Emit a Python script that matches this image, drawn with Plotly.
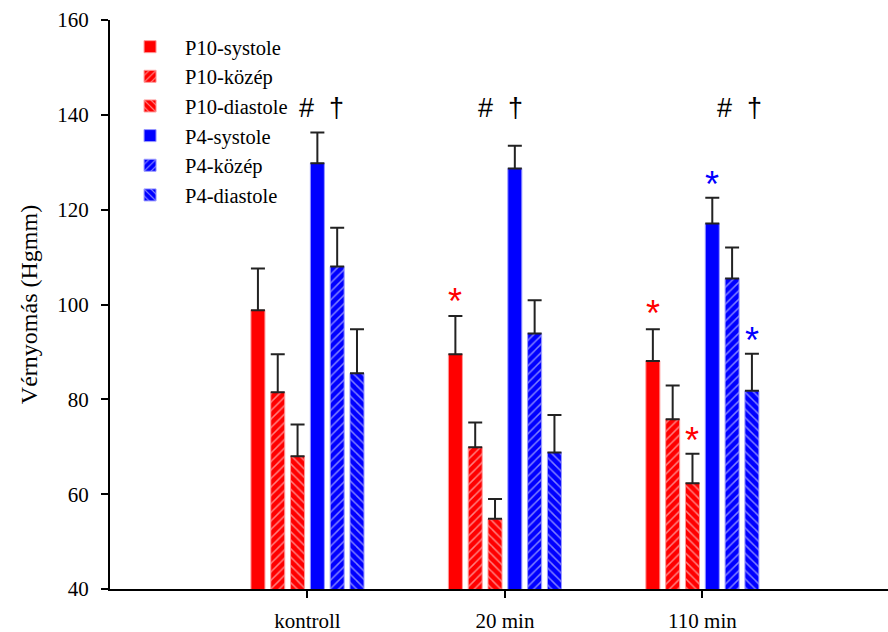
import plotly.graph_objects as go

categories = ["kontroll", "20 min", "110 min"]
series_names = ["P10-systole", "P10-közép", "P10-diastole", "P4-systole", "P4-közép", "P4-diastole"]
p10_systole = [98.8, 89.5, 88.1]
p10_kozep = [81.5, 69.9, 75.8]
p10_diastole = [68.0, 54.8, 62.3]
p4_systole = [129.8, 128.7, 117.1]
p4_kozep = [108.0, 93.9, 105.5]
p4_diastole = [85.5, 68.8, 81.8]
err_p10_systole = [8.8, 8.1, 6.7]
err_p10_kozep = [8.0, 5.2, 7.1]
err_p10_diastole = [6.7, 4.2, 6.2]
err_p4_systole = [6.5, 4.8, 5.4]
err_p4_kozep = [8.2, 7.0, 6.5]
err_p4_diastole = [9.3, 7.9, 7.8]

# significance markers: (category index, series index, y value, color)
star_marks = [(1, 0, 102.6, "red"), (2, 0, 99.9, "red"), (2, 2, 73.2, "red"),
              (2, 3, 127.3, "blue"), (2, 5, 94.3, "blue")]
hash_dagger_y = 141.4
hash_dagger_dx = [0.07, -0.02, 0.19]

values = [p10_systole, p10_kozep, p10_diastole, p4_systole, p4_kozep, p4_diastole]
errors = [err_p10_systole, err_p10_kozep, err_p10_diastole, err_p4_systole, err_p4_kozep, err_p4_diastole]
colors = ["#ff0000", "#ff0000", "#ff0000", "#0000ff", "#0000ff", "#0000ff"]
edge = ["#ff9a9a", "#ff9a9a", "#ff9a9a", "#9a9aff", "#9a9aff", "#9a9aff"]
shapes = ["", "/", "\\", "", "/", "\\"]

fig = go.Figure()
for i, name in enumerate(series_names):
    pat = dict(shape=shapes[i], fgcolor="white", bgcolor=colors[i], size=6, solidity=0.25)
    fig.add_trace(go.Bar(
        x=categories, y=values[i], name=name,
        marker=dict(color=colors[i], line=dict(color=edge[i], width=1), pattern=pat),
        error_y=dict(type="data", array=errors[i], arrayminus=[0] * 3, symmetric=False,
                     color="#222222", thickness=2, width=7),
    ))

FONT = "Liberation Serif"
pitch = 0.1003
annotations = []
for ci, si, yv, col in star_marks:
    annotations.append(dict(x=ci + (si - 2.5) * pitch, y=yv, text="*", showarrow=False,
                            font=dict(family="Liberation Sans", size=36, color=col),
                            xanchor="center", yanchor="middle", yshift=-9))
for ci, dx in enumerate(hash_dagger_dx):
    annotations.append(dict(x=ci + dx, y=hash_dagger_y, text="#  †", showarrow=False,
                            font=dict(family="Liberation Sans", size=27, color="black"),
                            xanchor="center", yanchor="middle"))

fig.update_layout(
    width=888, height=632,
    margin=dict(l=110, r=0, t=20, b=43),
    paper_bgcolor="white", plot_bgcolor="white",
    barmode="group", bargap=0.398, bargroupgap=0.293,
    font=dict(family=FONT, size=21, color="black"),
    showlegend=True,
    legend=dict(x=0.0065, y=0.988, xanchor="left", yanchor="top", bgcolor="rgba(0,0,0,0)",
                font=dict(family=FONT, size=20.5), itemwidth=60,
                traceorder="normal"),
    annotations=annotations,
    xaxis=dict(range=[-1.0, 2.94], showline=True, linecolor="black", linewidth=2,
               ticks="outside", ticklen=7, tickwidth=2, tickcolor="black",
               ticklabelstandoff=5,
               showgrid=False, zeroline=False, tickfont=dict(family=FONT, size=21)),
    yaxis=dict(range=[40, 160], dtick=20, showline=True, linecolor="black", linewidth=2,
               ticks="outside", ticklen=7, tickwidth=2, tickcolor="black",
               ticklabelstandoff=8,
               showgrid=False, zeroline=False, tickfont=dict(family=FONT, size=21),
               title=dict(text="Vérnyomás (Hgmm)", font=dict(family=FONT, size=24), standoff=13)),
)

fig.write_html("out.html")
